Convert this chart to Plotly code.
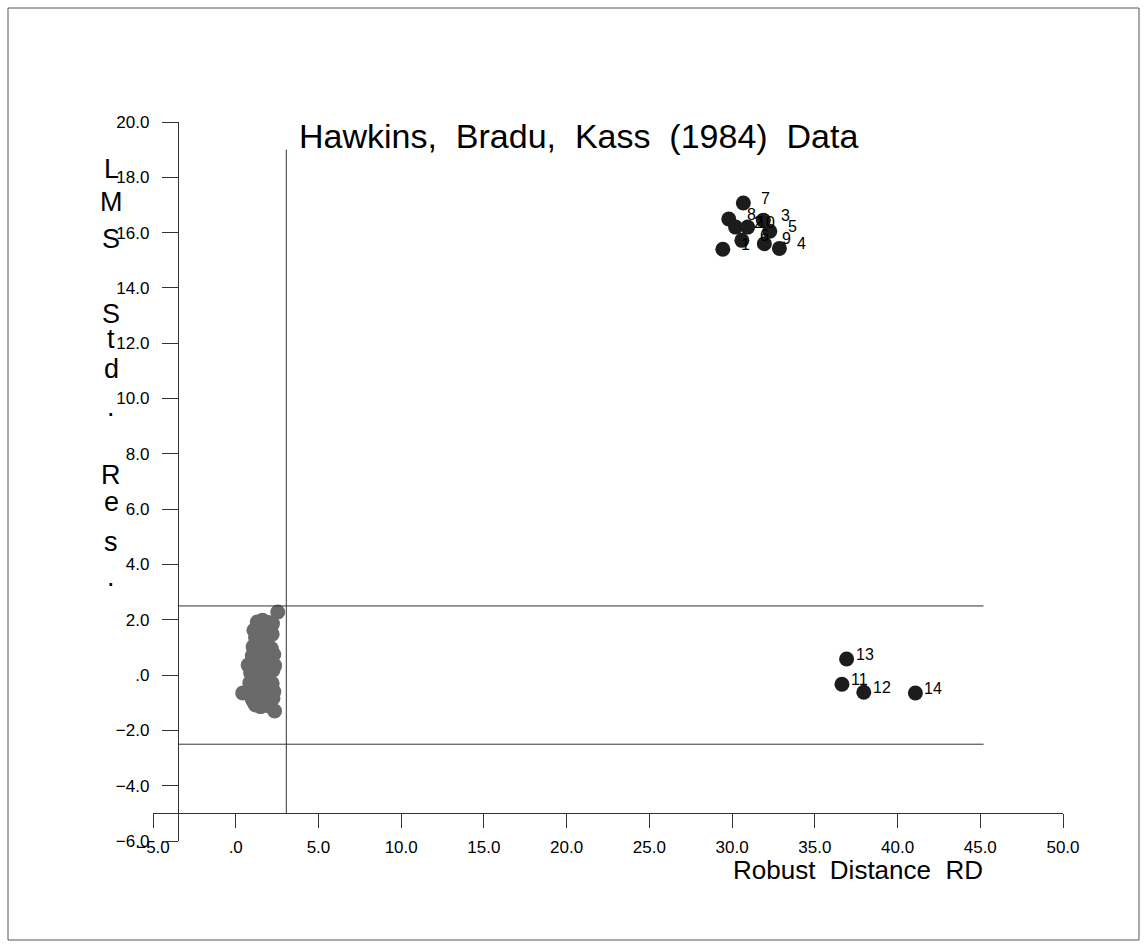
import plotly.graph_objects as go

# ---------------- data ----------------
# Outlying observations 1-14 (robust distance, LMS standardized residual)
out_labels = ["1", "2", "3", "4", "5", "6", "7", "8", "9", "10", "11", "12", "13", "14"]
out_rd = [29.44, 30.21, 31.89, 32.86, 32.28, 30.59, 30.68, 29.80, 31.95, 30.94,
          36.64, 37.96, 36.92, 41.08]
out_res = [15.40, 16.20, 16.45, 15.43, 16.05, 15.72, 17.07, 16.49, 15.60, 16.20,
           -0.33, -0.62, 0.58, -0.65]

# Regular observations 15-75
reg_rd = [2.54,
          1.30, 1.62, 2.00, 2.22,
          1.10, 1.42, 1.82, 2.12,
          1.20, 1.55, 1.92, 2.20,
          1.05, 1.30, 1.80, 2.15,
          1.00, 1.35, 1.70, 2.05, 2.30,
          0.75, 1.10, 1.45, 1.80, 2.10, 2.35,
          0.90, 1.25, 1.60, 1.95, 2.25,
          0.85, 1.20, 1.50, 1.85, 2.20,
          0.42, 0.95, 1.30, 1.65, 2.00, 2.30,
          1.00, 1.35, 1.70, 2.05, 2.25,
          1.20, 1.50, 1.90, 2.35,
          1.50, 1.70, 1.60, 1.40, 1.75, 1.55, 1.10, 2.00]
reg_res = [2.28,
           1.92, 1.98, 1.90, 1.86,
           1.62, 1.70, 1.66, 1.74,
           1.35, 1.45, 1.30, 1.48,
           1.02, 0.92, 1.08, 0.96,
           0.70, 0.62, 0.78, 0.66, 0.74,
           0.36, 0.44, 0.30, 0.46, 0.38, 0.34,
           0.08, 0.16, 0.02, 0.12, 0.18,
           -0.28, -0.32, -0.24, -0.36, -0.30,
           -0.65, -0.58, -0.62, -0.55, -0.66, -0.60,
           -0.88, -0.92, -0.86, -0.94, -0.84,
           -1.08, -1.14, -1.10, -1.30,
           1.76, 1.20, 0.55, -0.10, -0.45, -0.75, -0.98, 1.55]

x_tickvals = [-5, 0, 5, 10, 15, 20, 25, 30, 35, 40, 45, 50]
x_ticktext = ["\u22125.0", ".0", "5.0", "10.0", "15.0", "20.0", "25.0", "30.0",
              "35.0", "40.0", "45.0", "50.0"]
y_tickvals = [-6, -4, -2, 0, 2, 4, 6, 8, 10, 12, 14, 16, 18, 20]
y_ticktext = ["\u22126.0", "\u22124.0", "\u22122.0", ".0", "2.0", "4.0", "6.0", "8.0",
              "10.0", "12.0", "14.0", "16.0", "18.0", "20.0"]

res_cut = 2.5
rd_cut = 3.057
x_min, x_max = -5, 50
y_min, y_max = -6, 20
x_cross = -3.5      # where the vertical axis sits
y_cross = -5        # where the horizontal axis sits
href_end = 45.2
vref_top = 19

title_text = "Hawkins,\u00a0\u00a0Bradu,\u00a0\u00a0Kass\u00a0\u00a0(1984)\u00a0\u00a0Data"
xlabel_text = "Robust\u00a0\u00a0Distance\u00a0\u00a0RD"
ylabel_chars = ["L", "M", "S", "S", "t", "d", ".", "R", "e", "s", "."]

# ---------------- layout geometry ----------------
W, H = 1148, 949
ML, MR, MT, MB = 153, 85, 122, 108
PW, PH = W - ML - MR, H - MT - MB


def px_x(p):
    return (p - ML) / PW


def px_y(p):
    return (H - MB - p) / PH


FONT = "Liberation Sans, Arial, Helvetica, sans-serif"
LINE = "#333333"

fig = go.Figure()

fig.add_trace(go.Scatter(
    x=reg_rd, y=reg_res, mode="markers",
    marker=dict(size=15, color="#6a6a6a", line=dict(width=0)),
    hoverinfo="skip", showlegend=False))

fig.add_trace(go.Scatter(
    x=out_rd, y=out_res, mode="markers",
    marker=dict(size=15, color="#1c1c1c", line=dict(width=0)),
    hoverinfo="skip", showlegend=False))

annotations = []
for lab, xv, yv in zip(out_labels, out_rd, out_res):
    annotations.append(dict(
        x=xv, y=yv, xref="x", yref="y", text=lab, showarrow=False,
        xanchor="left", yanchor="middle",
        xshift=7 if len(lab) == 2 else 16, yshift=5,
        font=dict(size=16, color="black", family=FONT)))

# title
annotations.append(dict(
    x=px_x(297), y=px_y(136), xref="paper", yref="paper", text=title_text,
    showarrow=False, xanchor="left", yanchor="middle",
    font=dict(size=34, color="black", family=FONT)))

# x-axis label
annotations.append(dict(
    x=px_x(731), y=px_y(870), xref="paper", yref="paper", text=xlabel_text,
    showarrow=False, xanchor="left", yanchor="middle",
    font=dict(size=26, color="black", family=FONT)))

# y-axis label, one character per line
ylabel_baselines = [177, 210, 247, 322, 347, 377, 415, 483, 510, 550, 585]
for ch, base in zip(ylabel_chars, ylabel_baselines):
    annotations.append(dict(
        x=px_x(111), y=px_y(base - 8), xref="paper", yref="paper", text=ch,
        showarrow=False, xanchor="center", yanchor="middle",
        font=dict(size=27, color="black", family=FONT)))

shapes = [
    dict(type="line", xref="x", yref="y", x0=x_cross, x1=href_end, y0=res_cut, y1=res_cut,
         line=dict(color=LINE, width=1)),
    dict(type="line", xref="x", yref="y", x0=x_cross, x1=href_end, y0=-res_cut, y1=-res_cut,
         line=dict(color=LINE, width=1)),
    dict(type="line", xref="x", yref="y", x0=rd_cut, x1=rd_cut, y0=y_cross, y1=vref_top,
         line=dict(color=LINE, width=1)),
    # outer frame
    dict(type="rect", xref="paper", yref="paper",
         x0=px_x(8), x1=px_x(1139), y0=px_y(940), y1=px_y(8),
         line=dict(color="#555555", width=1)),
]

fig.update_layout(
    width=W, height=H,
    margin=dict(l=ML, r=MR, t=MT, b=MB, pad=0),
    paper_bgcolor="white", plot_bgcolor="white",
    font=dict(family=FONT, color="black"),
    showlegend=False,
    annotations=annotations,
    shapes=shapes,
    xaxis=dict(
        range=[x_min, x_max], tickmode="array", tickvals=x_tickvals, ticktext=x_ticktext,
        ticks="outside", ticklen=14, tickwidth=1, tickcolor=LINE,
        showline=True, linecolor=LINE, linewidth=1, mirror=False,
        showgrid=False, zeroline=False, anchor="free",
        position=(y_cross - y_min) / (y_max - y_min),
        tickfont=dict(size=17, color="black", family=FONT),
        ticklabelstandoff=4),
    yaxis=dict(
        range=[y_min, y_max], tickmode="array", tickvals=y_tickvals, ticktext=y_ticktext,
        ticks="outside", ticklen=16, tickwidth=1, tickcolor=LINE,
        showline=True, linecolor=LINE, linewidth=1, mirror=False,
        showgrid=False, zeroline=False, anchor="free",
        position=(x_cross - x_min) / (x_max - x_min),
        tickfont=dict(size=17, color="black", family=FONT),
        ticklabelstandoff=9),
)

fig.write_html("out.html")
